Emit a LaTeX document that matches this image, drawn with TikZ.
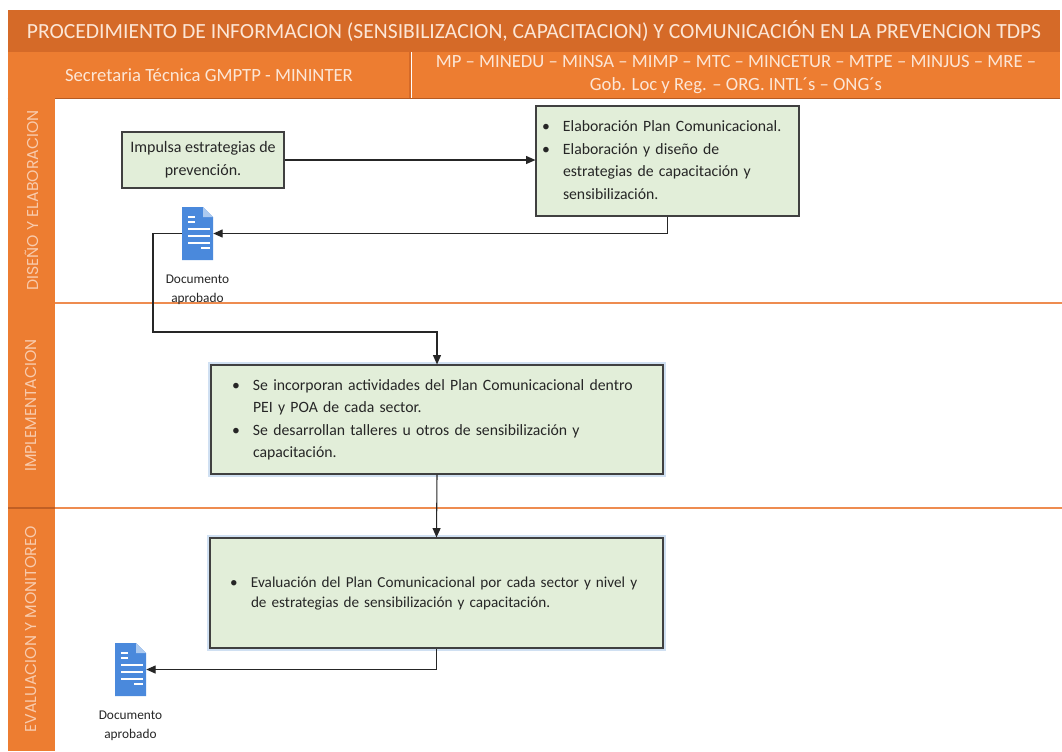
\documentclass[tikz,border=0pt]{standalone}
\usepackage{fontspec}
\setmainfont{Carlito}
\newfontfamily\lanefont{Poppins}
\usetikzlibrary{arrows.meta,positioning}

\definecolor{barra}{RGB}{213,106,40}
\definecolor{naranja}{RGB}{237,125,49}
\definecolor{claro}{RGB}{252,230,214}
\definecolor{lanetxt}{RGB}{248,203,173}
\definecolor{verde}{RGB}{226,238,217}
\definecolor{azuldoc}{RGB}{74,137,220}
\definecolor{pliegue}{RGB}{172,202,240}
\definecolor{linea}{RGB}{238,140,80}
\definecolor{halo}{RGB}{208,224,242}

% bullet list as a two column table
\newcommand{\lista}[1]{\begin{tabular}{@{}p{15.75pt}@{}l@{}}#1\end{tabular}}
% document icon drawn on a named node
\newcommand{\icono}[1]{%
  \begin{scope}[shift={(#1.center)}]
    \fill[azuldoc] (-15.5,-26.5) -- (5.5,-26.5) -- (15.5,-16.5) -- (15.5,26.5) -- (-15.5,26.5) -- cycle;
    \fill[pliegue] (5.5,-26.5) -- (15.5,-16.5) -- (5.5,-16.5) -- cycle;
    \draw[white,line width=1.5pt] (-9.5,-16.5) -- (-2.5,-16.5) (-9.5,-11.5) -- (-2.5,-11.5)
      (-9.5,-4.5) -- (12.5,-4.5) (-9.5,2.5) -- (12.5,2.5) (-9.5,9.5) -- (12.5,9.5) (3.5,14.5) -- (12.5,14.5);
  \end{scope}}

\begin{document}
\begin{tikzpicture}[x=0.75pt,y=-0.75pt,>={Triangle[length=7pt,width=6pt]},
    caja/.style={draw=black!75,fill=verde,line width=0.9pt,inner sep=0pt,align=left,text=black!85,
      font=\fontsize{11.8}{16.8}\selectfont},
    brillo/.style={preaction={draw=halo,line width=4pt}},
    carril/.style={fill=naranja,rotate=90,inner sep=0pt,minimum height=35.25pt,text=lanetxt,
      font=\lanefont\fontsize{11.8}{14}\selectfont},
    cabecera/.style={fill=naranja,inner sep=0pt,minimum height=34.5pt,text=claro,align=center,
      font=\fontsize{14}{18.75}\selectfont},
    doc/.style={minimum width=23.25pt,minimum height=39.75pt,inner sep=0pt},
    leyenda/.style={align=center,text=black!85,font=\fontsize{10}{14}\selectfont},
    flecha/.style={->,draw=black!85,line width=0.8pt}]
  \useasboundingbox (0,0) rectangle (1062,751);
  \fill[white] (0,0) rectangle (1062,751);

  % header
  \node[fill=barra,inner sep=0pt,minimum width=789pt,minimum height=31.5pt,text=claro,
    font=\fontsize{16.2}{18}\selectfont] (tit) at (534,31)
    {PROCEDIMIENTO DE INFORMACION (SENSIBILIZACION, CAPACITACION) Y COMUNICACIÓN EN LA PREVENCION TDPS};
  \node[cabecera,minimum width=301.5pt] (h_1) at (209,75) {Secretaria Técnica GMPTP - MININTER};
  \node[cabecera,minimum width=486pt] (h_2) at (736,75)
    {\raisebox{-1.5pt}{MP -- MINEDU -- MINSA -- MIMP -- MTC -- MINCETUR -- MTPE -- MINJUS -- MRE --}\\Gob. Loc y Reg. -- ORG. INTL´s -- ONG´s};
  \draw[barra,line width=1.2pt] (h_1.north east) -- (h_1.south east);
  \draw[barra!85!black,line width=0.8pt] (h_1.south west) -- (h_2.south east);

  % lanes
  \node[carril,minimum width=153.75pt] (l_1) at (31.5,200.5) {DISEÑO Y ELABORACION};
  \node[carril,minimum width=153.75pt] (l_2) at (31.5,405.5) {IMPLEMENTACION};
  \node[carril,minimum width=182.25pt] (l_3) at (31.5,629.5) {EVALUACION Y MONITOREO};
  \draw[barra!90!black,line width=0.8pt] (8,508) -- (55,508);
  \draw[linea,line width=1.2pt] (55,303) -- (1062,303) (55,508) -- (1062,508);

  % boxes
  \node[caja,align=center,minimum width=121.5pt,minimum height=42pt,
    font=\fontsize{12}{17}\selectfont] (b_1) at (203,160) {Impulsa estrategias de\\prevención.};
  \node[caja,minimum width=197.25pt,minimum height=82.5pt,text width=188.25pt] (b_2) at (667.5,161)
    {\lista{\textbullet & Elaboración Plan Comunicacional.\\
     \textbullet & Elaboración y diseño de\\ & estrategias de capacitación y\\ & sensibilización.}};
  \node[caja,brillo,minimum width=339pt,minimum height=81.75pt,text width=307.5pt] (b_3) at (437,419.5)
    {\lista{\textbullet & Se incorporan actividades del Plan Comunicacional dentro\\ & PEI y POA de cada sector.\\
     \textbullet & Se desarrollan talleres u otros de sensibilización y\\ & capacitación.}};
  \node[caja,brillo,minimum width=339.75pt,minimum height=82.5pt,text width=309.75pt,
    font=\fontsize{11.4}{15}\selectfont] (b_4) at (436.5,593)
    {\lista{\textbullet & Evaluación del Plan Comunicacional por cada sector y nivel y\\
     & de estrategias de sensibilización y capacitación.}};

  % documents
  \node[doc] (doc_1) at (197.5,233.5) {};
  \icono{doc_1}
  \node[leyenda,below=7.5pt of doc_1] (t_1) {Documento\\aprobado};
  \node[doc] (doc_2) at (130.5,669.5) {};
  \icono{doc_2}
  \node[leyenda,below=7.5pt of doc_2] (t_2) {Documento\\aprobado};

  % connectors
  \coordinate (c_1) at (153,332);
  \draw[flecha] (b_1.east) -- (b_1.east -| b_2.west);
  \draw[flecha] (b_2.south) |- (doc_1.east);
  \draw[flecha] (doc_1.west) -| (c_1) -| (b_3.north);
  \draw[flecha] (b_3.south) -- (b_4.north);
  \draw[flecha] (b_4.south) |- (doc_2.east);
\end{tikzpicture}
\end{document}
